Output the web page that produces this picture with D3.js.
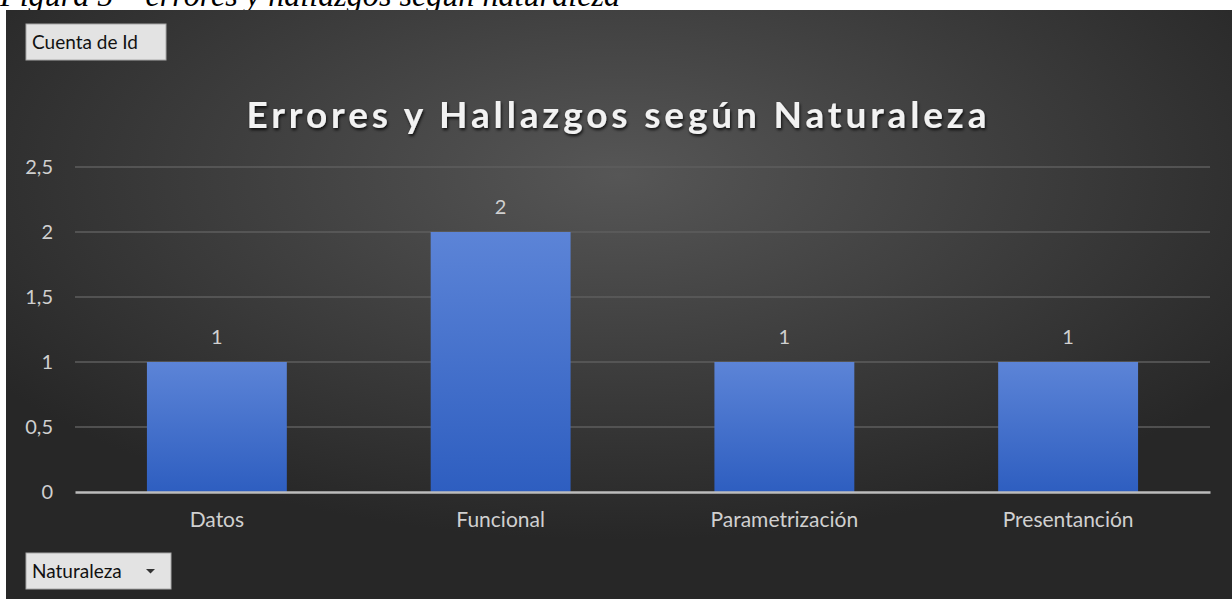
<!DOCTYPE html>
<html>
<head>
<meta charset="utf-8">
<script src="https://cdn.jsdelivr.net/npm/d3@7"></script>
<style>
	body { margin: 0; background: #fff; }
	svg { display: block; }
</style>
</head>
<body>
<div id="chart"></div>
<script>
	// Data
	var categories = ['Datos', 'Funcional', 'Parametrización', 'Presentanción'];
	var counts = [1, 2, 1, 1];
	var yTicks = [0, 0.5, 1, 1.5, 2, 2.5];

	var caption = 'Figura 5 – errores y hallazgos según naturaleza';
	var title = 'Errores y Hallazgos según Naturaleza';
	var fieldButton = 'Cuenta de Id';
	var axisButton = 'Naturaleza';

	var W = 1232, H = 599,
		panel = {x: 6, y: 10},
		plot = {left: 75, right: 1210, top: 167, bottom: 492},
		labelFont = 'Lato, "Open Sans", sans-serif';

	var svg = d3.select('#chart').append('svg')
		.attr('width', W)
		.attr('height', H);

	var defs = svg.append('defs');

	var bg = defs.append('radialGradient')
		.attr('id', 'bg')
		.attr('cx', '50%').attr('cy', '28%').attr('r', '62%');
	bg.append('stop').attr('offset', '0%').attr('stop-color', '#565656');
	bg.append('stop').attr('offset', '100%').attr('stop-color', '#272727');

	var barGrad = defs.append('linearGradient')
		.attr('id', 'bar')
		.attr('x1', 0).attr('y1', 0).attr('x2', 0).attr('y2', 1);
	barGrad.append('stop').attr('offset', '0%').attr('stop-color', '#5c84d7');
	barGrad.append('stop').attr('offset', '100%').attr('stop-color', '#2e5ec0');

	var shadow = defs.append('filter').attr('id', 'shadow')
		.attr('x', '-10%').attr('y', '-30%').attr('width', '120%').attr('height', '160%');
	shadow.append('feDropShadow')
		.attr('dx', 1).attr('dy', 2).attr('stdDeviation', 1.5)
		.attr('flood-color', '#000').attr('flood-opacity', 0.8);

	// caption of the figure, cut off by the chart panel
	svg.append('text')
		.attr('x', 0)
		.attr('y', 6)
		.attr('textLength', 620)
		.attr('lengthAdjust', 'spacingAndGlyphs')
		.style('font-family', '"Liberation Serif", "DejaVu Serif", serif')
		.style('font-style', 'italic')
		.style('font-size', '33px')
		.style('fill', '#000')
		.text(caption);

	svg.append('rect')
		.attr('x', panel.x).attr('y', panel.y)
		.attr('width', W - panel.x).attr('height', H - panel.y)
		.attr('fill', 'url(#bg)');

	var x = d3.scaleBand()
		.domain(categories)
		.range([plot.left, plot.right])
		.paddingInner(0.507)
		.paddingOuter(0.2535);

	var y = d3.scaleLinear()
		.domain([0, 2.5])
		.range([plot.bottom, plot.top]);

	var fmt = function (d) { return String(d).replace('.', ','); };

	// gridlines
	svg.append('g')
		.selectAll('line')
		.data(yTicks.slice(1))
		.join('line')
		.attr('x1', plot.left).attr('x2', plot.right)
		.attr('y1', function (d) { return y(d); })
		.attr('y2', function (d) { return y(d); })
		.attr('stroke', '#5e5e5e')
		.attr('stroke-width', 1.3);

	// y axis labels
	var yAxis = svg.append('g')
		.attr('transform', 'translate(' + plot.left + ',0)')
		.call(d3.axisLeft(y).tickValues(yTicks).tickFormat(fmt).tickSize(0).tickPadding(22));
	yAxis.select('.domain').remove();
	yAxis.selectAll('text')
		.style('font-family', labelFont)
		.style('font-size', '20px')
		.style('fill', '#d0d0d0');

	// bars
	svg.append('g')
		.selectAll('rect')
		.data(counts)
		.join('rect')
		.attr('x', function (d, i) { return x(categories[i]); })
		.attr('width', x.bandwidth())
		.attr('y', function (d) { return y(d); })
		.attr('height', function (d) { return y(0) - y(d); })
		.attr('fill', 'url(#bar)');

	// value labels
	svg.append('g')
		.selectAll('text')
		.data(counts)
		.join('text')
		.attr('x', function (d, i) { return x(categories[i]) + x.bandwidth() / 2; })
		.attr('y', function (d) { return y(d) - 18; })
		.attr('text-anchor', 'middle')
		.style('font-family', labelFont)
		.style('font-size', '20px')
		.style('fill', '#d0d0d0')
		.text(fmt);

	// x axis
	var xAxis = svg.append('g')
		.attr('transform', 'translate(0,' + plot.bottom + ')')
		.call(d3.axisBottom(x).tickSize(0).tickPadding(20));
	xAxis.select('.domain')
		.attr('stroke', '#bcbcbc')
		.attr('stroke-width', 2.5);
	xAxis.selectAll('text')
		.style('font-family', labelFont)
		.style('font-size', '21px')
		.style('fill', '#d0d0d0');

	// title
	svg.append('text')
		.attr('x', 618)
		.attr('y', 128)
		.attr('text-anchor', 'middle')
		.attr('textLength', 743)
		.attr('filter', 'url(#shadow)')
		.style('font-family', labelFont)
		.style('font-weight', 'bold')
		.style('font-size', '37px')
		.style('letter-spacing', '3px')
		.style('fill', '#f2f2f2')
		.text(title);

	// pivot field buttons
	function button(bx, by, bw, bh, label, arrow) {
		var g = svg.append('g').attr('transform', 'translate(' + bx + ',' + by + ')');
		g.append('rect')
			.attr('width', bw).attr('height', bh)
			.attr('fill', '#e3e3e3')
			.attr('stroke', '#a8a8a8');
		g.append('text')
			.attr('x', 6).attr('y', bh / 2 + 7)
			.style('font-family', labelFont)
			.style('font-size', '19px')
			.style('fill', '#111')
			.text(label);
		if (arrow) {
			g.append('path')
				.attr('d', 'M' + (bw - 25) + ',' + (bh / 2 - 2) + 'l9,0l-4.5,4.5z')
				.attr('fill', '#333');
		}
	}
	button(26, 24, 140, 36, fieldButton, false);
	button(26, 553, 145, 36, axisButton, true);
</script>
</body>
</html>
